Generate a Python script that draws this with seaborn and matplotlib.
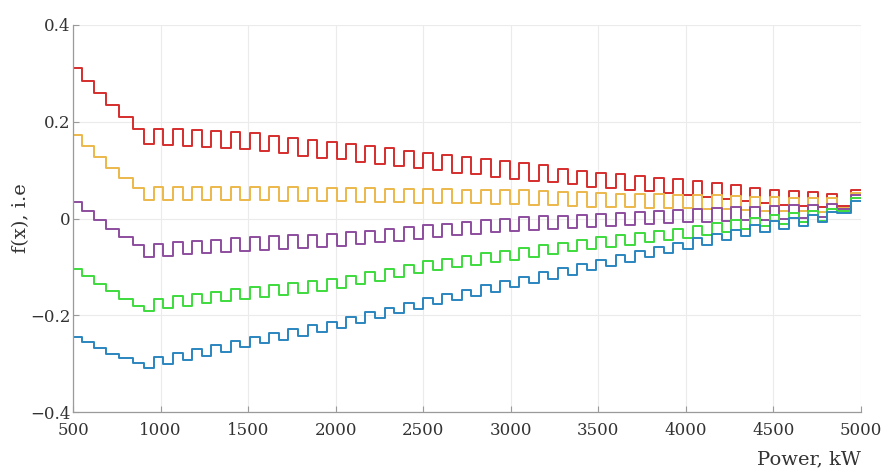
import pandas as pd
import matplotlib
matplotlib.use('Agg')
import matplotlib.pyplot as plt
import seaborn as sns

# step edges (kW), shared by all five curves
power_kw = [500, 551, 620, 689, 763, 841,
            905, 960, 1015, 1070, 1125, 1180, 1235, 1290, 1345, 1400,
            1455, 1510, 1565, 1620, 1675, 1730, 1785, 1840, 1895, 1950,
            2005, 2060, 2115, 2170, 2225, 2280, 2335, 2390, 2445, 2500,
            2555, 2610, 2665, 2720, 2775, 2830, 2885, 2940, 2995, 3050,
            3105, 3160, 3215, 3270, 3325, 3380, 3435, 3490, 3545, 3600,
            3655, 3710, 3765, 3820, 3875, 3930, 3985, 4040, 4095, 4150,
            4205, 4260, 4315, 4370, 4425, 4480, 4535, 4590, 4645, 4700,
            4755, 4810, 4865,
            4945, 5000]

red = [.310, .285, .260, .235, .210, .185,
       .154, .186, .152, .184, .150, .182, .148, .180, .146, .178,
       .144, .176, .139, .171, .135, .167, .130, .162, .126, .158,
       .122, .154, .117, .149, .113, .145, .108, .140, .104, .136,
       .100, .132, .095, .127, .091, .123, .086, .118, .082, .114,
       .078, .110, .075, .103, .071, .099, .066, .094, .063, .091,
       .060, .088, .056, .084, .053, .081, .049, .077, .045, .073,
       .041, .069, .036, .064, .032, .060, .029, .057, .026, .054,
       .023, .051, .025,
       .058, .058]

yellow = [.173, .149, .128, .105, .084, .063,
          .038, .066, .038, .066, .038, .066, .038, .066, .038, .066,
          .038, .066, .038, .066, .037, .065, .036, .064, .036, .064,
          .036, .064, .035, .063, .034, .062, .034, .062, .033, .061,
          .033, .061, .032, .060, .032, .060, .031, .059, .030, .058,
          .029, .057, .027, .055, .026, .054, .024, .052, .023, .051,
          .023, .051, .022, .050, .021, .049, .021, .049, .020, .048,
          .019, .047, .017, .045, .016, .044, .015, .043, .015, .043,
          .014, .042, .022,
          .053, .053]

purple = [.034, .015, -.003, -.022, -.038, -.055,
          -.080, -.052, -.077, -.049, -.074, -.046, -.072, -.044, -.069, -.041,
          -.066, -.038, -.064, -.036, -.062, -.034, -.061, -.033, -.059, -.031,
          -.056, -.028, -.053, -.025, -.049, -.021, -.046, -.018, -.042, -.014,
          -.039, -.011, -.035, -.007, -.031, -.003, -.028, .000, -.025, .003,
          -.023, .005, -.022, .006, -.020, .008, -.018, .010, -.016, .012,
          -.014, .014, -.012, .016, -.010, .018, -.008, .020, -.007, .021,
          -.005, .023, -.004, .024, -.002, .026, .000, .028, .001, .029,
          .003, .031, .019,
          .048, .048]

green = [-.105, -.119, -.135, -.150, -.166, -.180,
         -.190, -.166, -.185, -.161, -.180, -.156, -.175, -.151, -.170, -.146,
         -.166, -.142, -.162, -.138, -.158, -.134, -.153, -.129, -.149, -.125,
         -.143, -.119, -.135, -.111, -.128, -.104, -.120, -.096, -.112, -.088,
         -.107, -.083, -.101, -.077, -.096, -.072, -.090, -.066, -.085, -.061,
         -.079, -.055, -.074, -.050, -.068, -.044, -.063, -.039, -.058, -.034,
         -.054, -.030, -.049, -.025, -.045, -.021, -.040, -.016, -.034, -.010,
         -.028, -.004, -.022, .002, -.016, .008, -.012, .012, -.008, .016,
         -.005, .019, .016,
         .043, .043]

blue = [-.245, -.256, -.267, -.279, -.289, -.298,
        -.309, -.287, -.300, -.278, -.292, -.270, -.283, -.261, -.275, -.253,
        -.266, -.244, -.258, -.236, -.250, -.228, -.242, -.220, -.235, -.213,
        -.226, -.204, -.216, -.194, -.206, -.184, -.196, -.174, -.186, -.164,
        -.177, -.155, -.169, -.147, -.160, -.138, -.151, -.129, -.142, -.120,
        -.133, -.111, -.124, -.102, -.116, -.094, -.107, -.085, -.098, -.076,
        -.089, -.067, -.080, -.058, -.072, -.050, -.063, -.041, -.054, -.032,
        -.045, -.023, -.036, -.014, -.028, -.006, -.021, .001, -.015, .007,
        -.008, .014, .012,
        .037, .037]

series = {'red': red, 'yellow': yellow, 'purple': purple, 'green': green, 'blue': blue}
colors = {'red': '#d62d2d', 'yellow': '#ebb84a', 'purple': '#8c4d9e',
          'green': '#3ddc3d', 'blue': '#2a86bf'}

x_ticks = [500, 1000, 1500, 2000, 2500, 3000, 3500, 4000, 4500, 5000]
y_ticks = [-0.4, -0.2, 0, 0.2, 0.4]
y_tick_labels = ['\u22120.4', '\u22120.2', '0', '0.2', '0.4']

df = pd.concat([pd.DataFrame({'Power': power_kw, 'f': vals, 'curve': name})
                for name, vals in series.items()], ignore_index=True)

sns.set_theme(style='whitegrid')
plt.rcParams['font.family'] = ['DejaVu Serif']

fig = plt.figure(figsize=(8.81, 4.70), dpi=100)
ax = fig.add_axes([0.083, 0.123, 0.894, 0.824])

sns.lineplot(data=df, x='Power', y='f', hue='curve', palette=colors,
             estimator=None, sort=False, drawstyle='steps-post',
             linewidth=1.4, legend=False, ax=ax)

ax.set_xlim(500, 5000)
ax.set_ylim(-0.4, 0.4)
ax.set_xticks(x_ticks)
ax.set_yticks(y_ticks)
ax.set_yticklabels(y_tick_labels)
ax.grid(True, color='#ebebeb', linewidth=0.8)
ax.set_facecolor('white')

for side in ['top', 'right']:
    ax.spines[side].set_visible(False)
for side in ['left', 'bottom']:
    ax.spines[side].set_color('#9a9a9a')
    ax.spines[side].set_linewidth(0.9)

ax.tick_params(axis='both', direction='in', length=4, width=0.8,
               color='#9a9a9a', labelsize=12, labelcolor='#333333')
ax.tick_params(axis='x', pad=7, bottom=True)
ax.tick_params(axis='y', pad=2, left=True)

ax.set_xlabel('Power, kW', fontsize=14, color='#333333', loc='right', labelpad=8)
ax.set_ylabel('f(x), i.e', fontsize=14, color='#333333', labelpad=0)

fig.savefig('out.png', dpi=100, facecolor='white')
